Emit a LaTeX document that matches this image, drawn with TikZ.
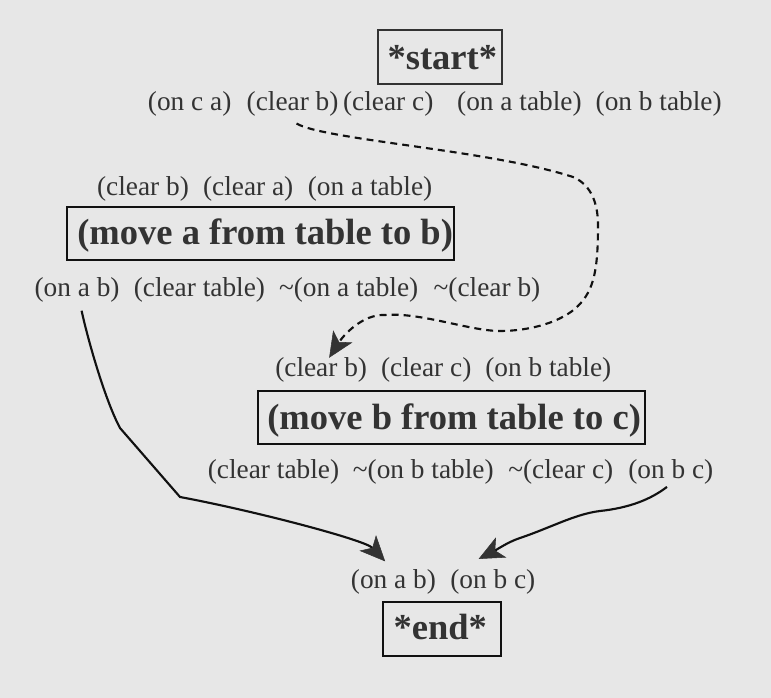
\documentclass[tikz,border=0pt]{standalone}
\usepackage{fontspec}
\setmainfont{Liberation Serif}
\usetikzlibrary{arrows.meta,calc}
\definecolor{bg}{HTML}{E7E7E7}
\definecolor{ink}{HTML}{333333}
\definecolor{edge}{HTML}{111111}
\begin{document}
\begin{tikzpicture}[x=0.75pt,y=-0.75pt,
  lbl/.style={inner sep=0pt, text=ink, anchor=base west, font=\fontsize{20.5}{24}\selectfont},
  ttl/.style={inner sep=0pt, text=ink, anchor=base west, font=\fontsize{27.4}{32}\selectfont\bfseries},
  box/.style={draw=edge, line width=1.5pt, rectangle, inner sep=0pt},
  flow/.style={line width=1.6pt, draw=edge,
    -{Stealth[length=19pt,width=17pt,inset=5pt,line width=0.4pt,fill=ink,color=ink]}},
  dflow/.style={flow, dash pattern=on 5.2pt off 3.8pt}]
\fill[bg] (0,0) rectangle (771,698);
\useasboundingbox (0,0) rectangle (771,698);

% start
\node[box, draw=ink, minimum width=93pt, minimum height=40.5pt] (startbox) at (440.3,57) {};
\node[ttl] (starttxt) at (387.3,70) {*start*};
\node[lbl] (sOnCA)   at (147.7,110.5) {(on c a)};
\node[lbl] (sClearB) at (246.4,110.5) {(clear b)};
\node[lbl] (sClearC) at (342.8,110.5) {(clear c)};
\node[lbl] (sOnAT)   at (456.9,110.5) {(on a table)};
\node[lbl] (sOnBT)   at (595.4,110.5) {(on b table)};

% move a
\node[lbl] (aClearB) at (96.8,195.5) {(clear b)};
\node[lbl] (aClearA) at (202.8,195.5) {(clear a)};
\node[lbl] (aOnAT)   at (307.5,195.5) {(on a table)};
\node[box, minimum width=290.2pt, minimum height=39.75pt] (abox) at (260.15,233.2) {};
\node[ttl] (atxt) at (77,245) {(move a from table to b)};
\node[lbl] (aOnAB)    at (34.3,296.2) {(on a b)};
\node[lbl] (aClearT)  at (133.5,296.2) {(clear table)};
\node[lbl] (aNotOnAT) at (278.8,296.2) {\textasciitilde(on a table)};
\node[lbl] (aNotClB)  at (433.4,296.2) {\textasciitilde(clear b)};

% move b
\node[lbl] (bClearB) at (275,377) {(clear b)};
\node[lbl] (bClearC) at (380.8,377) {(clear c)};
\node[lbl] (bOnBT)   at (485,377) {(on b table)};
\node[box, minimum width=290.5pt, minimum height=39.75pt] (bbox) at (451.35,417.5) {};
\node[ttl] (btxt) at (267,430) {(move b from table to c)};
\node[lbl] (bClearT)  at (207.6,478.3) {(clear table)};
\node[lbl] (bNotOnBT) at (352.6,478.3) {\textasciitilde(on b table)};
\node[lbl] (bNotClC)  at (508,478.3) {\textasciitilde(clear c)};
\node[lbl] (bOnBC)    at (628,478.3) {(on b c)};

% end
\node[lbl] (eOnAB) at (350.7,588.3) {(on a b)};
\node[lbl] (eOnBC) at (450,588.3) {(on b c)};
\node[box, minimum width=88.5pt, minimum height=40.5pt] (endbox) at (442.3,628.7) {};
\node[ttl] (endtxt) at (393.3,639.5) {*end*};

% connectors
\draw[dflow] ($(sClearB.south)+(4,7)$)
  .. controls (325,140) and (490,150) .. (573,177)
  .. controls (592,185) and (598,205) .. (598,225)
  .. controls (598,270) and (594,290) .. (578,306)
  .. controls (562,322) and (530,331) .. (500,331)
  .. controls (470,331) and (420,312) .. (385,315)
  .. controls (362,314) and (343,336) .. ($(bClearB.north)+(8,0)$);

\draw[flow] ($(aOnAB.south)+(4.5,8.4)$)
  .. controls (88,340) and (105,400) .. (120,428)
  -- (180,497)
  .. controls (255,511) and (365,540) .. ($(eOnAB.north)+(-8.3,-7.7)$);

\draw[flow] ($(bOnBC.south)+(-3.8,2.5)$)
  .. controls (650,500) and (628,508) .. (600,511)
  .. controls (575,514) and (550,528) .. (520,538)
  .. controls (508,542) and (498,549) .. ($(eOnBC.north)+(-14.2,-10.1)$);
\end{tikzpicture}
\end{document}
